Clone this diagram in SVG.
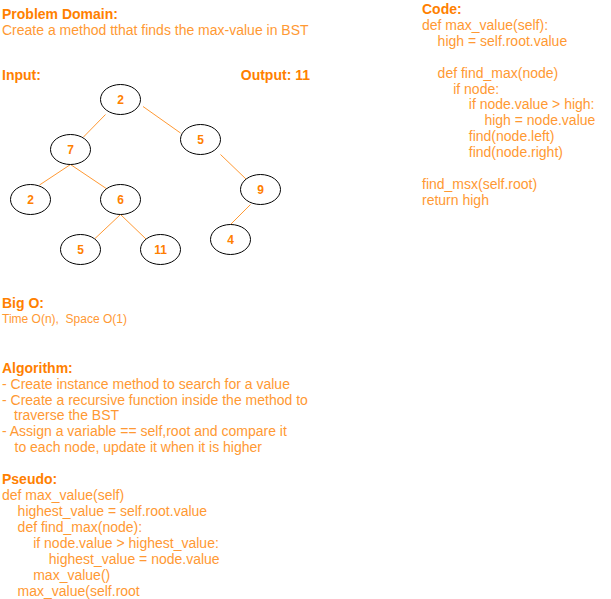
<svg xmlns="http://www.w3.org/2000/svg" width="611" height="599" viewBox="0 0 611 599">
<style>
text{font-family:"Liberation Sans",Arial,sans-serif;}
.h{font-size:14px;font-weight:bold;fill:#FF8000;}
.t{font-size:14px;fill:#FF9933;}
.s{font-size:12px;fill:#FF9933;}
.n ellipse{fill:#FFFFFF;stroke:#000000;stroke-width:1;}
.n text{font-size:12px;font-weight:bold;fill:#FF8000;text-anchor:middle;}
#edges line{stroke:#FF9933;stroke-width:1;}
</style>
<rect width="611" height="599" fill="#FFFFFF"/>
<g id="problem">
<text class="h" x="2" y="18.5">Problem Domain:</text>
<text class="t" x="2" y="34.5">Create a method tthat finds the max-value in BST</text>
</g>
<g id="io">
<text class="h" x="2" y="80">Input:</text>
<text class="h" x="310" y="80" text-anchor="end">Output: 11</text>
</g>
<g id="edges">
<line x1="105.5" y1="114.5" x2="83.5" y2="137"/>
<line x1="143" y1="106.5" x2="180.5" y2="133"/>
<line x1="70.5" y1="164.5" x2="39.5" y2="185"/>
<line x1="70.5" y1="164.5" x2="107" y2="189"/>
<line x1="220.5" y1="154.5" x2="246.5" y2="179.5"/>
<line x1="120.5" y1="214.5" x2="95" y2="238.5"/>
<line x1="120.5" y1="214.5" x2="146" y2="239"/>
<line x1="250.5" y1="204.5" x2="230.5" y2="224.5"/>
</g>
<g id="node-root" class="n"><ellipse cx="120.5" cy="99.5" rx="20" ry="15"/><text x="120.5" y="103.5">2</text></g>
<g id="node-7" class="n"><ellipse cx="70.5" cy="149.5" rx="20" ry="15"/><text x="70.5" y="153.5">7</text></g>
<g id="node-5a" class="n"><ellipse cx="200.5" cy="139.5" rx="20" ry="15"/><text x="200.5" y="143.5">5</text></g>
<g id="node-2b" class="n"><ellipse cx="30.5" cy="199.5" rx="20" ry="15"/><text x="30.5" y="203.5">2</text></g>
<g id="node-6" class="n"><ellipse cx="120.5" cy="199.5" rx="20" ry="15"/><text x="120.5" y="203.5">6</text></g>
<g id="node-9" class="n"><ellipse cx="260.5" cy="189.5" rx="20" ry="15"/><text x="260.5" y="193.5">9</text></g>
<g id="node-5b" class="n"><ellipse cx="80.5" cy="249.5" rx="20" ry="15"/><text x="80.5" y="253.5">5</text></g>
<g id="node-11" class="n"><ellipse cx="160.5" cy="249.5" rx="20" ry="15"/><text x="160.5" y="253.5">11</text></g>
<g id="node-4" class="n"><ellipse cx="230.5" cy="239.5" rx="20" ry="15"/><text x="230.5" y="243.5">4</text></g>
<g id="bigo">
<text class="h" x="2" y="307.5">Big O:</text>
<text class="s" x="2" y="322.5" xml:space="preserve">Time O(n),  Space O(1)</text>
</g>
<g id="algorithm">
<text class="h" x="2" y="372.5">Algorithm:</text>
<text class="t" x="2" y="388.5">- Create instance method to search for a value</text>
<text class="t" x="2" y="404.5">- Create a recursive function inside the method to</text>
<text class="t" x="14" y="420">traverse the BST</text>
<text class="t" x="2" y="436">- Assign a variable == self,root and compare it</text>
<text class="t" x="14.5" y="452">to each node, update it when it is higher</text>
</g>
<g id="pseudo">
<text class="h" x="2" y="483.5">Pseudo:</text>
<text class="t" x="2" y="499.5">def max_value(self)</text>
<text class="t" x="17.6" y="515.5">highest_value = self.root.value</text>
<text class="t" x="17.6" y="531.5">def find_max(node):</text>
<text class="t" x="33.2" y="547.5">if node.value &gt; highest_value:</text>
<text class="t" x="48.8" y="563.5">highest_value = node.value</text>
<text class="t" x="33.2" y="579.5">max_value()</text>
<text class="t" x="17.6" y="595.5">max_value(self.root</text>
</g>
<g id="code">
<text class="h" x="422" y="13.5">Code:</text>
<text class="t" x="422" y="29.5">def max_value(self):</text>
<text class="t" x="437.6" y="45.5">high = self.root.value</text>
<text class="t" x="437.6" y="77.5">def find_max(node)</text>
<text class="t" x="453.2" y="93.5">if node:</text>
<text class="t" x="468.8" y="109">if node.value &gt; high:</text>
<text class="t" x="484.4" y="125">high = node.value</text>
<text class="t" x="468.8" y="141">find(node.left)</text>
<text class="t" x="468.8" y="157">find(node.right)</text>
<text class="t" x="422" y="189">find_msx(self.root)</text>
<text class="t" x="422" y="205">return high</text>
</g>
</svg>
